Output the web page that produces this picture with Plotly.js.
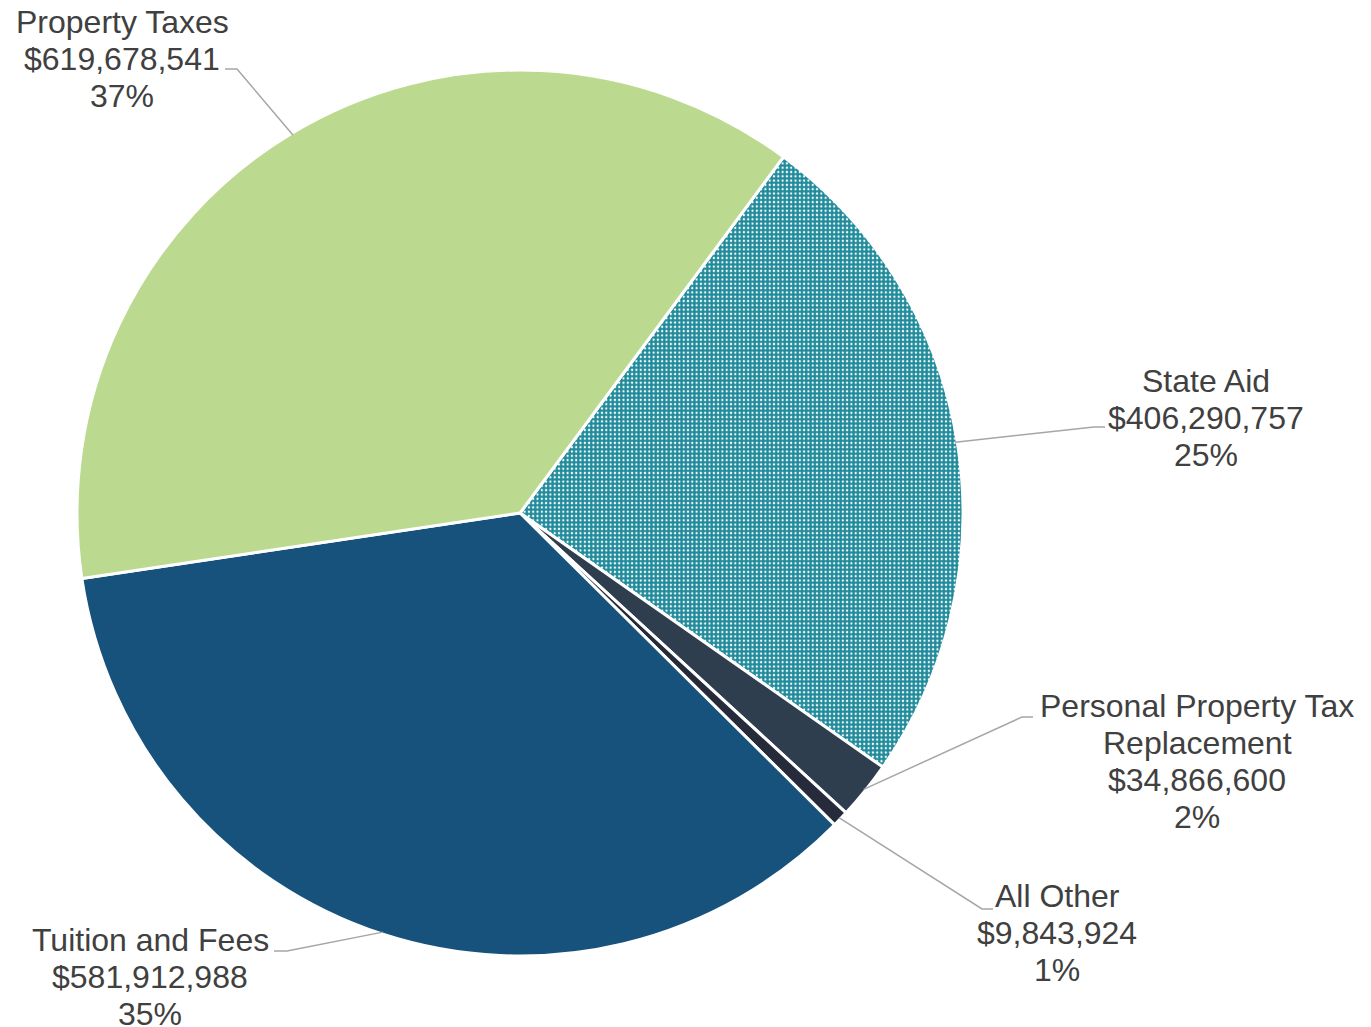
<!DOCTYPE html>
<html>
<head>
<meta charset="utf-8">
<script src="https://cdn.plot.ly/plotly-3.0.1.min.js"></script>
<style>html,body{margin:0;padding:0;background:#fff;}#chart{width:1371px;height:1027px;}</style>
</head>
<body>
<div id="chart"></div>
<script>
// ---- data ----
const categories = ["State Aid", "Personal Property Tax Replacement", "All Other", "Tuition and Fees", "Property Taxes"];
const values = [406290757, 34866600, 9843924, 581912988, 619678541];
const percentLabels = ["25%", "2%", "1%", "35%", "37%"];
const labelLines = [
  ["State Aid"],
  ["Personal Property Tax", "Replacement"],
  ["All Other"],
  ["Tuition and Fees"],
  ["Property Taxes"]
];
const colors = ["#1E8A9A", "#2F3E4F", "#252B3B", "#16527C", "#BBDA90"];
const patternShapes = ["+", "", "", "", ""];

// ---- layout geometry (pixels) ----
const W = 1371, H = 1027;
const CX = 520, CY = 513, R = 443;
const ROT = 36.5;
const labelPos = [
  {x: 1206, y: 392, elbow: [1094, 427], end: [1105, 427]},
  {x: 1197, y: 717, elbow: [1022, 717], end: [1033, 717]},
  {x: 1057, y: 907, elbow: [982, 909], end: [993, 909]},
  {x: 150,  y: 951, elbow: [287, 951], end: [274, 951]},
  {x: 122,  y: 33,  elbow: [237, 69],  end: [225, 69]}
];
const LINE_H = 37;
const FS = 32;

const px = x => x / W;
const py = y => 1 - y / H;
const fmt = v => "$" + v.toLocaleString("en-US");

const total = values.reduce((a, b) => a + b, 0);
const annotations = [];
const shapes = [];
let cum = 0;
values.forEach((v, i) => {
  const mid = ROT + 360 * (cum + v / 2) / total;
  cum += v;
  const a = mid * Math.PI / 180;
  const sx = CX + (R - 2) * Math.sin(a);
  const sy = CY - (R - 2) * Math.cos(a);
  const p = labelPos[i];
  shapes.push({
    type: "path", xref: "paper", yref: "paper",
    path: `M ${px(sx)} ${py(sy)} L ${px(p.elbow[0])} ${py(p.elbow[1])} L ${px(p.end[0])} ${py(p.end[1])}`,
    line: {color: "#A6A6A6", width: 1.5}
  });
  const lines = labelLines[i].concat([fmt(v), percentLabels[i]]);
  lines.forEach((t, k) => {
    annotations.push({
      xref: "paper", yref: "paper",
      x: px(p.x), y: py(p.y + k * LINE_H - 11),
      xanchor: "center", yanchor: "middle",
      text: t, showarrow: false,
      font: {family: "Liberation Sans, Arial, sans-serif", size: FS, color: "#404040"}
    });
  });
});

const trace = {
  type: "pie",
  labels: categories,
  values: values,
  sort: false,
  direction: "clockwise",
  rotation: ROT,
  textinfo: "none",
  hoverinfo: "label+value+percent",
  marker: {
    colors: colors,
    line: {color: "#FFFFFF", width: 3},
    pattern: {
      shape: patternShapes,
      fgcolor: colors,
      bgcolor: "#FFFFFF",
      fillmode: "replace",
      size: 4.3,
      solidity: 0.78
    }
  },
  domain: {x: [(CX - R) / W, (CX + R) / W], y: [1 - (CY + R) / H, 1 - (CY - R) / H]},
  showlegend: false
};

const layout = {
  width: W, height: H,
  margin: {l: 0, r: 0, t: 0, b: 0, pad: 0},
  paper_bgcolor: "#FFFFFF",
  plot_bgcolor: "#FFFFFF",
  showlegend: false,
  annotations: annotations,
  shapes: shapes
};

Plotly.newPlot("chart", [trace], layout, {displayModeBar: false, staticPlot: true});
</script>
</body>
</html>
